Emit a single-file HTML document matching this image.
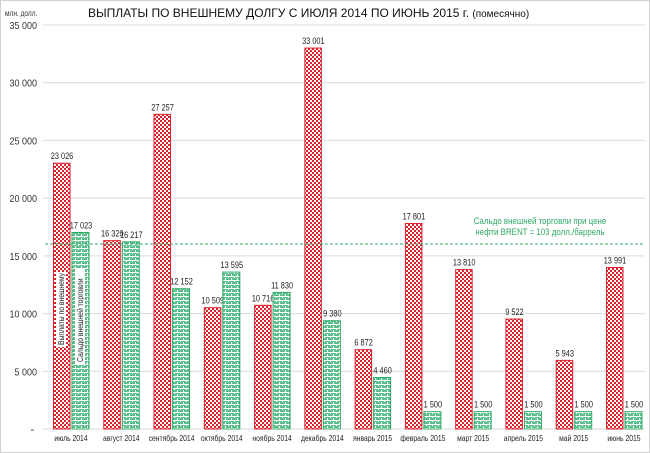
<!DOCTYPE html>
<html><head><meta charset="utf-8"><style>
html,body{margin:0;padding:0;background:#fff}
svg{display:block;font-family:"Liberation Sans",sans-serif}
</style></head><body>
<svg id="c" width="650" height="453" viewBox="0 0 650 453" xmlns="http://www.w3.org/2000/svg">
<defs>
<pattern id="pr" width="4" height="4" patternUnits="userSpaceOnUse">
<rect width="4" height="4" fill="#fff"/><rect width="2" height="2" fill="#e0202a"/><rect x="2" y="2" width="2" height="2" fill="#e0202a"/>
</pattern>
<pattern id="pg" width="6" height="4" patternUnits="userSpaceOnUse">
<rect width="6" height="4" fill="#5cc08e"/><rect x="0" y="0" width="6" height="1" fill="#fff"/><rect x="0" y="0" width="1" height="2" fill="#fff"/><rect x="3" y="2" width="1" height="2" fill="#fff"/>
</pattern>
</defs>
<rect x="0.5" y="0.5" width="649" height="452" fill="#fff" stroke="#d0d0d0"/>
<g id="g"></g>
</svg>
<script>
var g=document.getElementById('g'),s='';
function T(x,y,sz,txt,anc,fill,sx){sx=sx||0.82;return '<text transform="translate('+x+','+y+') scale('+sx+',1)" font-size="'+sz+'" text-anchor="'+(anc||'start')+'" fill="'+(fill||'#222')+'">'+txt+'</text>';}
function Y(v){return 429-v*404/35000;}
for(var i=1;i<=7;i++){var y=Y(i*5000);s+='<line x1="43" x2="645" y1="'+y+'" y2="'+y+'" stroke="#d9d9d9"/>';
s+=T(37,y+4,10,(i*5)+' 000','end','#333',0.9);}
s+='<line x1="43" x2="645" y1="429" y2="429" stroke="#d9d9d9"/><text x="34" y="433" font-size="10" text-anchor="end">-</text>';
s+=T(5,16,8,'млн. долл.','start','#333');
s+='<text x="88" y="17" font-size="12" fill="#111">ВЫПЛАТЫ ПО ВНЕШНЕМУ ДОЛГУ С ИЮЛЯ 2014 ПО ИЮНЬ 2015 г. <tspan font-size="10">(помесячно)</tspan></text>';
var r=[23026,16320,27257,10509,10716,33001,6872,17801,13810,9522,5943,13991],
gr=[17023,16217,12152,13595,11830,9380,4460,1500,1500,1500,1500,1500],
l=['июль 2014','август 2014','сентябрь 2014','октябрь 2014','ноябрь 2014','декабрь 2014','январь 2015','февраль 2015','март 2015','апрель 2015','май 2015','июнь 2015'];
function f(n){var t=String(n);return t.length>3?t.slice(0,-3)+' '+t.slice(-3):t;}
for(var i=0;i<12;i++){var c=71+i*50.27;
var y=Y(r[i]);s+='<rect x="'+(c-17.5)+'" y="'+y+'" width="16.5" height="'+(429-y)+'" fill="url(#pr)" stroke="#e0202a" stroke-width="1"/>';
s+=T(c-9,y-4,9,f(r[i]),'middle');
y=Y(gr[i]);s+='<rect x="'+(c+1)+'" y="'+y+'" width="17" height="'+(429-y)+'" fill="url(#pg)" stroke="#2ea866" stroke-width="1"/>';
s+=T(c+10,y-4,9,f(gr[i]),'middle');
s+=T(c,441,8,l[i],'middle','#222',0.85);}
s+='<line x1="45" x2="644" y1="244" y2="244" stroke="#2ea866" stroke-dasharray="3,2"/>';
s+=T(540,224,9,'Сальдо внешней торговли при цене','middle','#2ea866',0.88);
s+=T(540,235,9,'нефти BRENT = 103 долл./баррель','middle','#2ea866',0.88);
s+='<rect x="56" y="272" width="10" height="75" fill="#fff"/><text transform="translate(64,345) rotate(-90) scale(0.85,1)" font-size="8" fill="#222">Выплаты по внешнему</text>';
s+='<rect x="75" y="268" width="10" height="96" fill="#fff"/><text transform="translate(83,362) rotate(-90) scale(0.85,1)" font-size="8" fill="#222">Сальдо внешней торговли</text>';
g.innerHTML=s;
</script>
</body></html>
